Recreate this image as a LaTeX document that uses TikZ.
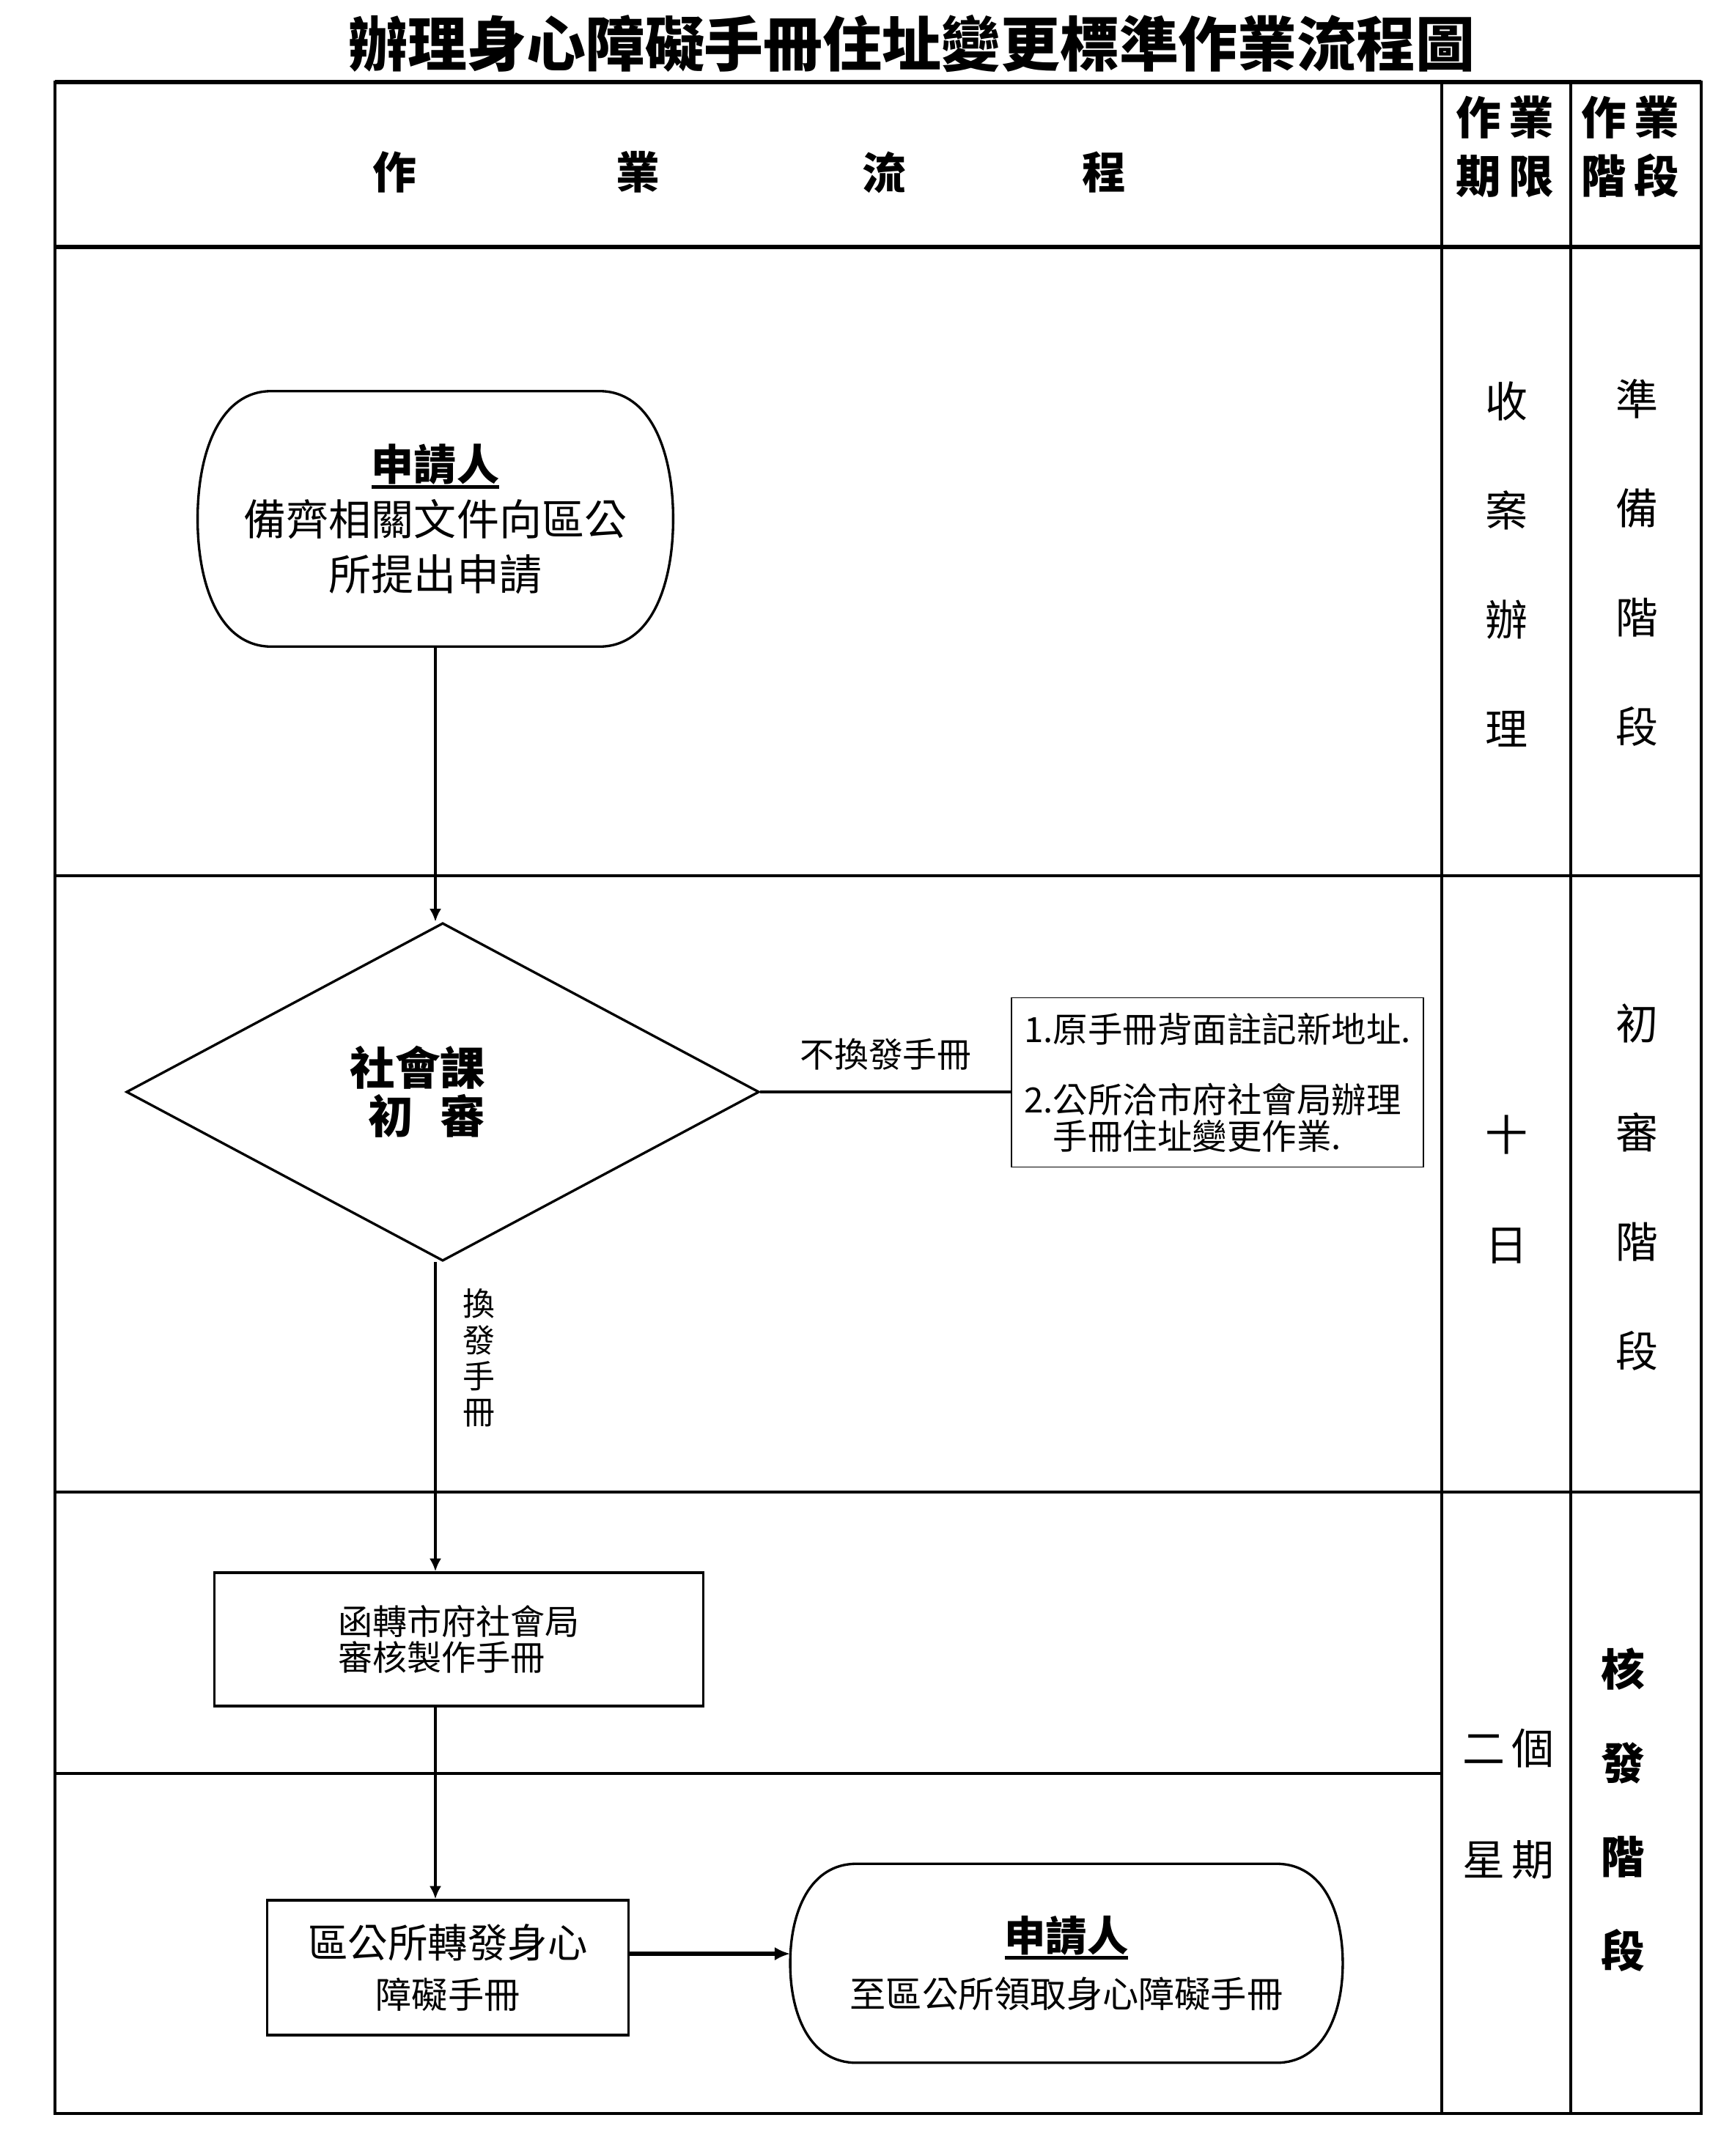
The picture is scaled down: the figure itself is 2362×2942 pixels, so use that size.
\documentclass[tikz,border=0pt]{standalone}
\usepackage{fontspec}
\setmainfont{Noto Sans CJK TC}
\usetikzlibrary{shapes.geometric,arrows.meta,calc}
\newcommand\myul[1]{\setbox0\hbox{#1}\rlap{\rule[-0.2em]{\wd0}{1.3pt}}\box0}
\newcommand\fs[2]{\fontsize{#1}{#2}\selectfont}
\newcommand\mystad[2]{%
\draw[shapeline] let \p1=(#1.north west), \p2=(#1.south east) in
({\x1+#2*(\x2-\x1)},\y1) -- ({\x2-#2*(\x2-\x1)},\y1)
.. controls ({\x2-0.3*#2*(\x2-\x1)},\y1) and (\x2,{\y1-0.24*(\y1-\y2)}) .. (\x2,{0.5*(\y1+\y2)})
.. controls (\x2,{\y2+0.24*(\y1-\y2)}) and ({\x2-0.3*#2*(\x2-\x1)},\y2) .. ({\x2-#2*(\x2-\x1)},\y2)
-- ({\x1+#2*(\x2-\x1)},\y2)
.. controls ({\x1+0.3*#2*(\x2-\x1)},\y2) and (\x1,{\y2+0.24*(\y1-\y2)}) .. (\x1,{0.5*(\y1+\y2)})
.. controls (\x1,{\y1-0.24*(\y1-\y2)}) and ({\x1+0.3*#2*(\x2-\x1)},\y1) .. cycle;}
\begin{document}
\begin{tikzpicture}[x=0.01cm,y=-0.01cm,
  tline/.style={line width=0.9pt},
  heavyline/.style={line width=1.5pt},
  shapeline/.style={line width=0.95pt},
  arr/.style={line width=1.2pt,-{Latex[length=5pt,width=4.6pt]}},
  boldarr/.style={line width=1.5pt,-{Latex[length=6pt,width=5.2pt]}},
  plain/.style={line width=0.9pt},
  txt/.style={inner sep=0pt,align=center},
  box/.style={draw,shapeline,rectangle,inner sep=0pt}]
\useasboundingbox[fill=white] (0,0) rectangle (2362,2942);

% title
\node[txt,font=\fs{23}{23}\bfseries] (title) at (1244,60) {辦理身心障礙手冊住址變更標準作業流程圖};

% table frame
\draw[tline] (75,112) rectangle (2321,2884);
\draw[heavyline] (75,112) -- (2321,112);
\draw[heavyline] (75,337) -- (2321,337);
\draw[tline] (1967,112) -- (1967,2884);
\draw[tline] (2143,112) -- (2143,2884);
\draw[tline] (75,1195) -- (2321,1195);
\draw[tline] (75,2036) -- (2321,2036);
\draw[tline] (75,2420) -- (1967,2420);

% header texts
\node[txt,font=\fs{17}{17}\bfseries] (h1) at (538,235) {作};
\node[txt,font=\fs{17}{17}\bfseries] (h2) at (870,235) {業};
\node[txt,font=\fs{17}{17}\bfseries] (h3) at (1206,235) {流};
\node[txt,font=\fs{17}{17}\bfseries] (h4) at (1506,235) {程};
\node[txt,font=\fs{17.5}{22.8}\bfseries] (ch2) at (2053,200) {作\,業\\期\,限};
\node[txt,font=\fs{17.5}{22.8}\bfseries] (ch3) at (2224,200) {作\,業\\階\,段};

% column texts
\node[txt,font=\fs{16.5}{42.4}] (t1a) at (2055,770) {收\\案\\辦\\理};
\node[txt,font=\fs{16.5}{42.4}] (t1b) at (2233,768) {準\\備\\階\\段};
\node[txt,font=\fs{16.5}{42.7}] (t2a) at (2055,1623) {十\\日};
\node[txt,font=\fs{16.5}{42.4}] (t2b) at (2233,1620) {初\\審\\階\\段};
\node[txt,font=\fs{16.5}{43.2}] (t3a) at (2058,2462) {二\,個\\星\,期};
\node[txt,font=\fs{17}{36.4}\bfseries] (t3b) at (2214,2470) {核\\發\\階\\段};

% flow nodes
\node[txt,minimum width=6.47cm,minimum height=3.47cm,font=\fs{16.5}{21.3}] (s1) at (594,708)
  {{\bfseries\myul{申請人}}\\備齊相關文件向區公\\所提出申請};
\mystad{s1}{0.155}

\node[diamond,draw,shapeline,inner sep=0pt,minimum width=8.63cm,minimum height=4.61cm,
  align=center,font=\fs{17.5}{18.8}\bfseries] (d) at (604,1490)
  {社會課\hspace*{1.1em}\\初\hspace{0.6em}審\hspace*{0.7em}};

\node[box,line width=0.5pt,minimum width=5.61cm,minimum height=2.31cm,
  align=left,font=\fs{13.5}{14}] (note) at (1661,1477)
  {1.原手冊背面註記新地址.\\[13.5pt]2.公所洽市府社會局辦理\\\phantom{2.}手冊住址變更作業.};

\node[box,minimum width=6.66cm,minimum height=1.82cm,align=left,font=\fs{13.4}{14}] (f1) at (626,2237)
  {函轉市府社會局\\審核製作手冊};

\node[box,minimum width=4.93cm,minimum height=1.84cm,align=center,font=\fs{15.5}{19.6}] (f2) at (611,2685)
  {區公所轉發身心\\{\fs{14}{19.6}障礙手冊}};

\node[txt,minimum width=7.52cm,minimum height=2.70cm,font=\fs{14}{22}] (s2) at (1455,2679)
  {{\fs{16}{22}\bfseries\myul{申請人}}\\至區公所領取身心障礙手冊};
\mystad{s2}{0.12}

% connectors
\draw[arr] (s1.south) -- (s1.south |- d.north);
\draw[plain] (d.east) -- node[midway,above=8pt,inner sep=0pt,font=\fs{13.3}{14}] (lb1) {不換發手冊} (d.east -| note.west);
\draw[arr] (d.south -| s1.south) -- node[pos=0.31,right=10pt,inner sep=0pt,align=center,font=\fs{12.5}{14}] (lb2) {換\\發\\手\\冊} (f1.north -| s1.south);
\draw[arr] (f1.south -| s1.south) -- (f2.north -| s1.south);
\draw[boldarr] ([yshift=5.4pt]f2.east) -- ([yshift=5.4pt]f2.east -| s2.west);
\end{tikzpicture}
\end{document}
